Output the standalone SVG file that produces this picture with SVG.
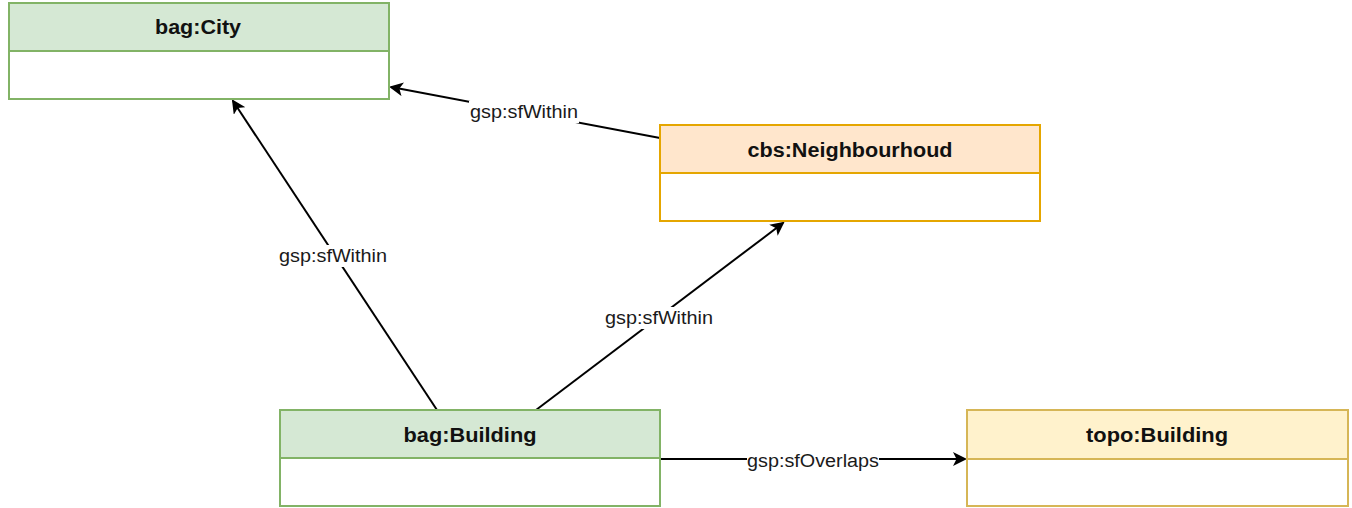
<svg xmlns="http://www.w3.org/2000/svg" width="1352" height="508" viewBox="0 0 1352 508">
<style>
.t{font-family:"Liberation Sans",Arial,sans-serif;font-size:20px;font-weight:bold;fill:#111;text-anchor:middle}
.l{font-family:"Liberation Sans",Arial,sans-serif;font-size:18px;fill:#1a1a1a;text-anchor:middle}
.e{stroke:#000;stroke-width:2;fill:none;marker-end:url(#a)}
.g{fill:#d5e8d4;stroke:#82b366;stroke-width:2}
.o{fill:#ffe6cc;stroke:#e5a600;stroke-width:2}
.y{fill:#fff2cc;stroke:#d6b656;stroke-width:2}
.w{fill:#fff}
</style>
<defs>
<marker id="a" markerWidth="14" markerHeight="14" refX="12" refY="7" orient="auto" markerUnits="userSpaceOnUse">
<path d="M0,0 L14,7 L0,14 L3.5,7 Z" fill="#000"/>
</marker>
</defs>
<rect width="1352" height="508" fill="#fff"/>
<g id="connectors">
<line class="e" x1="660" y1="138" x2="391" y2="87"/>
<line class="e" x1="437" y1="410" x2="233" y2="101"/>
<line class="e" x1="536" y1="410" x2="783" y2="223"/>
<line class="e" x1="660" y1="459" x2="965" y2="459"/>
<rect x="469" y="101" width="110" height="22" fill="#fff"/>
<text class="l" x="524" y="118" textLength="108" lengthAdjust="spacingAndGlyphs">gsp:sfWithin</text>
<rect x="278" y="245" width="110" height="22" fill="#fff"/>
<text class="l" x="333" y="262" textLength="108" lengthAdjust="spacingAndGlyphs">gsp:sfWithin</text>
<rect x="604" y="307" width="110" height="22" fill="#fff"/>
<text class="l" x="659" y="324" textLength="108" lengthAdjust="spacingAndGlyphs">gsp:sfWithin</text>
<rect x="747" y="450" width="132" height="22" fill="#fff"/>
<text class="l" x="813" y="467" textLength="132" lengthAdjust="spacingAndGlyphs">gsp:sfOverlaps</text>
</g>
<g id="city">
<rect class="g" x="9" y="3" width="380" height="96"/>
<rect class="w" x="10" y="52" width="378" height="46"/>
<line x1="9" y1="51" x2="389" y2="51" stroke="#82b366" stroke-width="2"/>
<text class="t" x="198" y="34" textLength="86" lengthAdjust="spacingAndGlyphs">bag:City</text>
</g>
<g id="neighbourhoud">
<rect class="o" x="660" y="125" width="380" height="96"/>
<rect class="w" x="661" y="174" width="378" height="46"/>
<line x1="660" y1="173" x2="1040" y2="173" stroke="#e5a600" stroke-width="2"/>
<text class="t" x="850" y="157" textLength="205" lengthAdjust="spacingAndGlyphs">cbs:Neighbourhoud</text>
</g>
<g id="bagBuilding">
<rect class="g" x="280" y="410" width="380" height="96"/>
<rect class="w" x="281" y="459" width="378" height="46"/>
<line x1="280" y1="458" x2="660" y2="458" stroke="#82b366" stroke-width="2"/>
<text class="t" x="470" y="442" textLength="133" lengthAdjust="spacingAndGlyphs">bag:Building</text>
</g>
<g id="topoBuilding">
<rect class="y" x="967" y="410" width="381" height="96"/>
<rect class="w" x="968" y="460" width="379" height="45"/>
<line x1="967" y1="459" x2="1348" y2="459" stroke="#d6b656" stroke-width="2"/>
<text class="t" x="1157" y="442" textLength="142" lengthAdjust="spacingAndGlyphs">topo:Building</text>
</g>
</svg>
